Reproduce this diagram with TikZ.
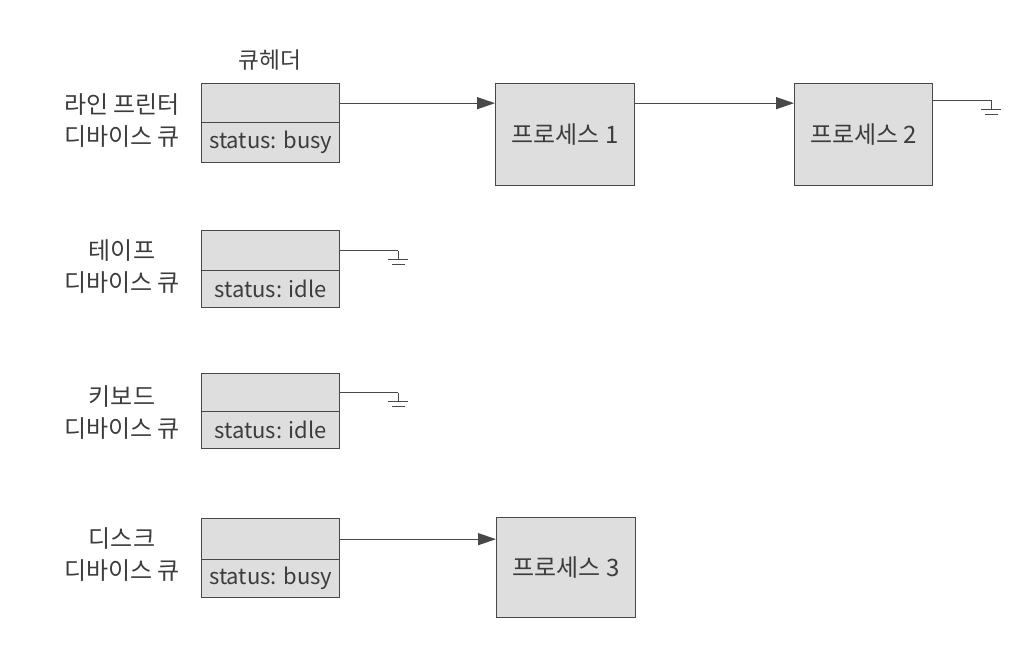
\documentclass[tikz,border=0pt]{standalone}
\usepackage{fontspec}
\setmainfont{Noto Sans CJK KR}
\usetikzlibrary{arrows.meta,calc}
\definecolor{boxfill}{HTML}{DEDEDE}
\definecolor{ink}{HTML}{3C3C3C}
\definecolor{edge}{HTML}{484848}
\tikzset{
  cell/.style={draw=edge, line width=1pt, fill=boxfill, minimum width=103.5pt,
    inner sep=0pt, anchor=north west, font=\fontsize{16.5}{20}\selectfont, text=ink},
  proc/.style={draw=edge, line width=1pt, fill=boxfill, inner sep=0pt,
    anchor=north west, font=\fontsize{18}{22}\selectfont, text=ink},
  lbl/.style={align=center, font=\fontsize{18}{24}\selectfont, text=ink},
  arr/.style={draw=edge, line width=1pt, -{Triangle[length=13.5pt,width=9pt]}},
  wire/.style={draw=edge, line width=1pt},
  ground/.pic={
    \draw[wire] (0,0) -- (0,9);
    \draw[wire] (-10,9) -- (10,9);
    \draw[wire] (-6.5,14) -- (6.5,14);
  }
}
\begin{document}
\begin{tikzpicture}[x=0.75pt,y=-0.75pt]
\useasboundingbox (0,0) rectangle (1028,646);

% header title
\node[lbl, font=\fontsize{17}{20}\selectfont] (title) at (270,60) {큐헤더};

% row 1: line printer
\node[cell, minimum height=29.25pt] (h1) at (201,83) {};
\node[cell, minimum height=30pt] (s1) at (201,122) {status: busy};
\node[lbl] (l1) at (122,121) {라인 프린터\\디바이스 큐};

% row 2: tape
\node[cell, minimum height=30pt] (h2) at (201,230) {};
\node[cell, minimum height=27.75pt] (s2) at (201,270) {status: idle};
\node[lbl] (l2) at (122,267) {테이프\\디바이스 큐};

% row 3: keyboard
\node[cell, minimum height=28.5pt] (h3) at (201,373) {};
\node[cell, minimum height=27.75pt] (s3) at (201,411) {status: idle};
\node[lbl] (l3) at (122,413) {키보드\\디바이스 큐};

% row 4: disk
\node[cell, minimum height=30.75pt] (h4) at (201,518) {};
\node[cell, minimum height=28.5pt] (s4) at (201,559) {status: busy};
\node[lbl] (l4) at (122,555) {디스크\\디바이스 큐};

% processes
\node[proc, minimum width=104.25pt, minimum height=76.5pt] (p1) at (495,83) {프로세스 1};
\node[proc, minimum width=103.5pt, minimum height=76.5pt] (p2) at (794,83) {프로세스 2};
\node[proc, minimum width=104.25pt, minimum height=75pt] (p3) at (496,517) {프로세스 3};

% connectors
\draw[arr] (h1.east) -- (h1.east -| p1.west);
\draw[arr] (p1.east |- h1.east) -- (p2.west |- h1.east);
\draw[arr] (h4.east) -- (h4.east -| p3.west);

% null terminators
\coordinate (g1) at ($(p2.east |- h1.east)+(58,-3)$);
\coordinate (g2) at ($(h2.east)+(58,0)$);
\coordinate (g3) at ($(h3.east)+(58,0)$);
\draw[wire] (p2.east |- g1) -- (g1);
\draw[wire] (h2.east) -- (g2);
\draw[wire] (h3.east) -- (g3);
\pic at (g1) {ground};
\pic at (g2) {ground};
\pic at (g3) {ground};
\end{tikzpicture}
\end{document}
